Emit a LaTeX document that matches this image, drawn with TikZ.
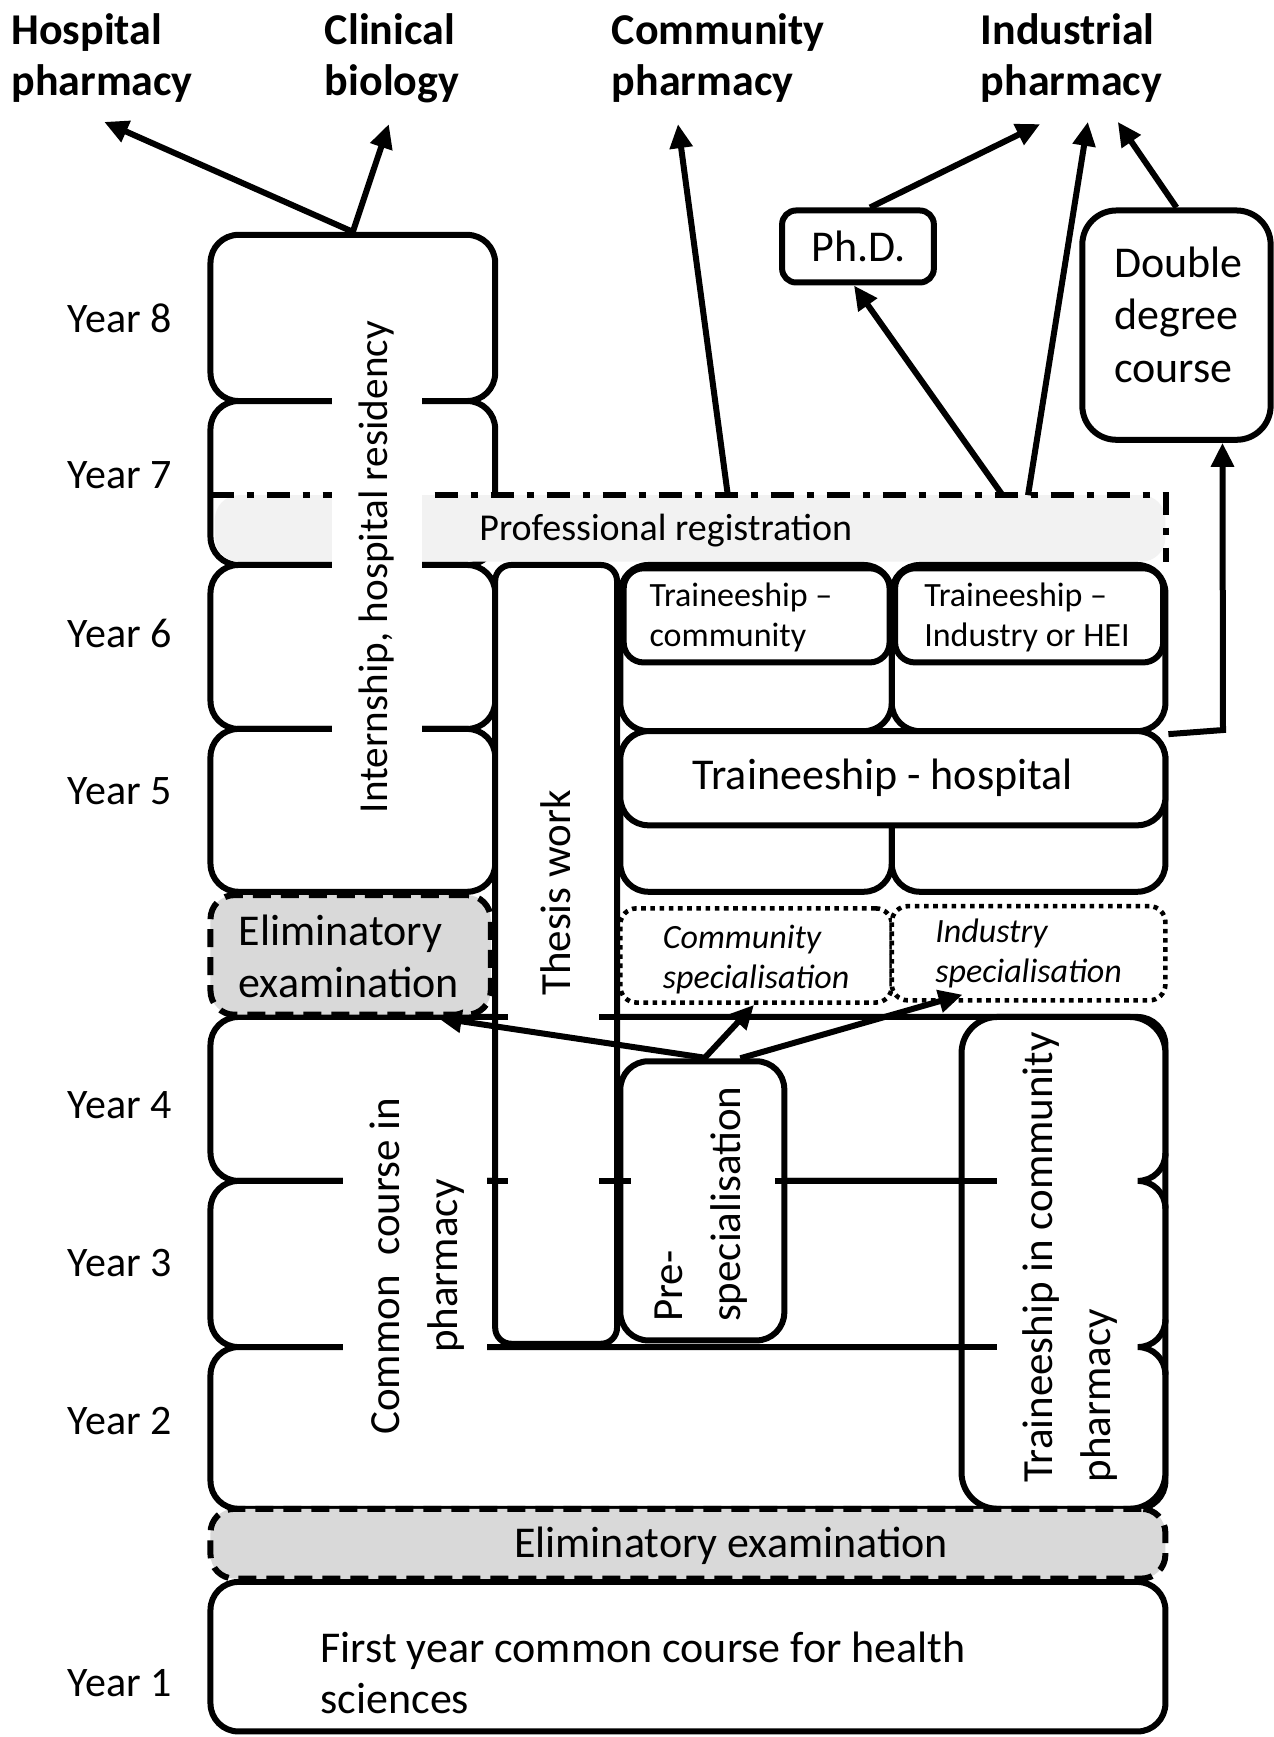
\documentclass[tikz,border=0pt]{standalone}
\usepackage{fontspec}
\setmainfont{Carlito}
\usetikzlibrary{fit,arrows.meta}
\definecolor{gA}{HTML}{D9D9D9}
\definecolor{gB}{HTML}{F2F2F2}
\begin{document}
\begin{tikzpicture}[x=0.5539pt,y=-0.5539pt,
  lw/.style={line width=3pt},
  bx/.style={draw,line width=3pt,fill=white,inner sep=0pt,rounded corners=#1},
  bx/.default=14pt,
  dbox/.style={draw,line width=3pt,fill=gA,inner sep=0pt,rounded corners=12pt,dash pattern=on 9pt off 5pt},
  dotbox/.style={draw,line width=2.3pt,fill=white,inner sep=0pt,rounded corners=8pt,dash pattern=on 2.3pt off 2.3pt},
  ar/.style={line width=3pt,-{Triangle[length=12pt,width=11pt]}},
  tA/.style={font=\fontsize{22}{26}\selectfont,inner sep=0pt},
  tR/.style={font=\fontsize{21.5}{29}\selectfont,inner sep=0pt,rotate=90},
  tY/.style={font=\fontsize{21}{25}\selectfont,inner sep=0pt},
  tB/.style={font=\bfseries\fontsize{22}{25.6}\selectfont,align=left,inner sep=0pt,anchor=north west},
  tS/.style={font=\fontsize{17}{20}\selectfont,align=left,inner sep=0pt,anchor=west},
  tI/.style={font=\itshape\fontsize{17}{20}\selectfont,align=left,inner sep=0pt,anchor=west},
]
\useasboundingbox (0,0) rectangle (1150,1568);
\fill[white] (0,0) rectangle (1150,1568);

% top labels
\node[tB] (hp) at (10,12) {Hospital\\pharmacy};
\node[tB] (cb) at (293,12) {Clinical\\biology};
\node[tB] (cp) at (552,12) {Community\\pharmacy};
\node[tB] (ip) at (885,12) {Industrial\\pharmacy};

% year labels
\node[tY] (ya8) at (108,287) {Year 8};
\node[tY] (ya7) at (108,429) {Year 7};
\node[tY] (ya6) at (108,572) {Year 6};
\node[tY] (ya5) at (108,714) {Year 5};
\node[tY] (ya4) at (108,998) {Year 4};
\node[tY] (ya3) at (108,1140) {Year 3};
\node[tY] (ya2) at (108,1283) {Year 2};
\node[tY] (ya1) at (108,1519) {Year 1};

% lower rows
\node[bx, fit={(190,918) (1052,1066)}] (r4) {};
\node[bx, fit={(190,1066) (1052,1216)}] (r3) {};
\node[bx, fit={(190,1216) (1052,1362)}] (r2) {};
\node[bx, fit={(190,1428) (1052,1563)}] (r1) {};

% internship column
\node[bx, fit={(190,212) (447,362)}] (i8) {};
\node[bx, fit={(190,362) (447,510)}] (i7) {};
\node[fill=gB, rounded corners=12pt, inner sep=0pt, fit={(194,447) (1052,507)}] (pr) {};
\draw[lw, dash pattern=on 11.5pt off 6.5pt on 3.5pt off 6.5pt] ([xshift=-2pt]pr.north west) -- (pr.north east) -- (pr.south east);
\node[font=\fontsize{19}{23}\selectfont] (prT) at (601,479) {Professional registration};
\node[bx, fit={(190,510) (447,658)}] (i6) {};
\node[bx, fit={(190,658) (447,805)}] (i5) {};

% left eliminatory examination
\node[dbox, fit={(190,808) (443,916)}] (el) {};
\node[tA, align=left, anchor=west, font=\fontsize{22}{26}\selectfont] (elT) at (215,863) {Eliminatory\\examination};

% right area, years 6 and 5
\node[bx, fit={(560,510) (805,660)}] (y6l) {};
\node[bx, fit={(805,510) (1052,660)}] (y6r) {};
\node[bx=10pt, fit={(563,513) (803,598)}] (tc) {};
\node[tS] (tcT) at (586,557) {Traineeship --\\community};
\node[bx=10pt, fit={(808,513) (1050,598)}] (ti) {};
\node[tS] (tiT) at (834,557) {Traineeship --\\Industry or HEI};
\node[bx, fit={(560,660) (805,805)}] (y5l) {};
\node[bx, fit={(805,660) (1052,805)}] (y5r) {};
\node[bx, fit={(560,660) (1052,745)}] (hos) {};
\node[tA] (hosT) at (797,702) {Traineeship - hospital};

% specialisations
\node[dotbox, fit={(560,820) (805,905)}] (cs) {};
\node[tI] (csT) at (598,866) {Community\\specialisation};
\node[dotbox, fit={(805,818) (1052,903)}] (is) {};
\node[tI] (isT) at (844,861) {Industry\\specialisation};

% thesis, pre-specialisation, traineeship in community pharmacy
\node[bx=8pt, fit={(447,510) (557,1213)}] (th) {};
\node[tR] (thT) at (502,806) {Thesis work};
\node[bx, fit={(560,958) (708,1210)}] (ps) {};
\node[tR, align=left] (psT) at (633,1087) {Pre-\\specialisation};
\node[bx=18pt, fit={(868,918) (1052,1362)}] (tcp) {};
\node[tR, align=left] (tcpT) at (966,1135) {Traineeship in community\\pharmacy};

% white text bands
\fill[white] (300,282) rectangle (381,742);
\node[tR, font=\fontsize{20.6}{25}\selectfont] (intT) at (340,512) {Internship, hospital residency};
\fill[white] (310,985) rectangle (440,1300);
\node[tR, align=center] (ccT) at (377,1143) {Common\ \ course in\\pharmacy};

% visible pieces of the row lines
\draw[lw] (440,918) -- (459,918) (541,918) -- (562,918) (860,918) -- (900,918);
\draw[lw] (440,1066) -- (459,1066) (541,1066) -- (570,1066) (700,1066) -- (716,1066) (860,1066) -- (900,1066);
\draw[lw] (440,1216) -- (900,1216);
\draw[lw] (1052,1041) .. controls (1052,1055) and (1041,1066) .. (1027,1066) .. controls (1041,1066) and (1052,1077) .. (1052,1091);
\draw[lw] (1052,1191) .. controls (1052,1205) and (1041,1216) .. (1027,1216) .. controls (1041,1216) and (1052,1227) .. (1052,1241);

% bottom eliminatory and year 1
\node[dbox, fit={(190,1362) (1052,1425)}] (el2) {};
\node[tA] (el2T) at (660,1395) {Eliminatory examination};
\node[tA, align=left, anchor=west, font=\fontsize{22}{25.5}\selectfont] (r1T) at (289,1510) {First year common course for health\\sciences};

% Ph.D. and double degree
\node[bx=7pt, fit={(706,190) (843,255)}] (phd) {};
\node[tA] (phdT) at (775,222) {Ph.D.};
\node[bx=17pt, fit={(977,190) (1147,397)}] (dd) {};
\node[tA, align=left, font=\fontsize{22}{26.3}\selectfont] (ddT) at (1064,284) {Double\\degree\\course};

% arrow ends
\coordinate (hpE) at (94,110);
\coordinate (cbE) at (351,112);
\coordinate (cpE) at (612,112);
\coordinate (ipE1) at (939,112);
\coordinate (ipE2) at (982,110);
\coordinate (ipE3) at (1009,110);
\coordinate (prA) at (657,447);
\coordinate (prB) at (905,447);
\coordinate (prC) at (928,447);
\coordinate (elb) at (1104,659);

\draw[ar] (i8.north) -- (hpE);
\draw[ar] (i8.north) -- (cbE);
\draw[ar] (prA) -- (cpE);
\draw[ar] ([xshift=6pt]phd.north) -- (ipE1);
\draw[ar] (prC) -- (ipE2);
\draw[ar] (dd.north) -- (ipE3);
\draw[ar] (prB) -- ([xshift=-2pt]phd.south);
\draw[ar] (y6r.south east) -- (elb) -- ([xshift=23pt]dd.south);
\draw[ar] ([xshift=3pt]ps.north) -- ([xshift=43.5pt]el.south);
\draw[ar] ([xshift=1pt]ps.north) -- ([xshift=-1pt]cs.south);
\draw[ar] ([xshift=19pt]ps.north) -- ([xshift=-33pt,yshift=4pt]is.south);
\end{tikzpicture}
\end{document}
